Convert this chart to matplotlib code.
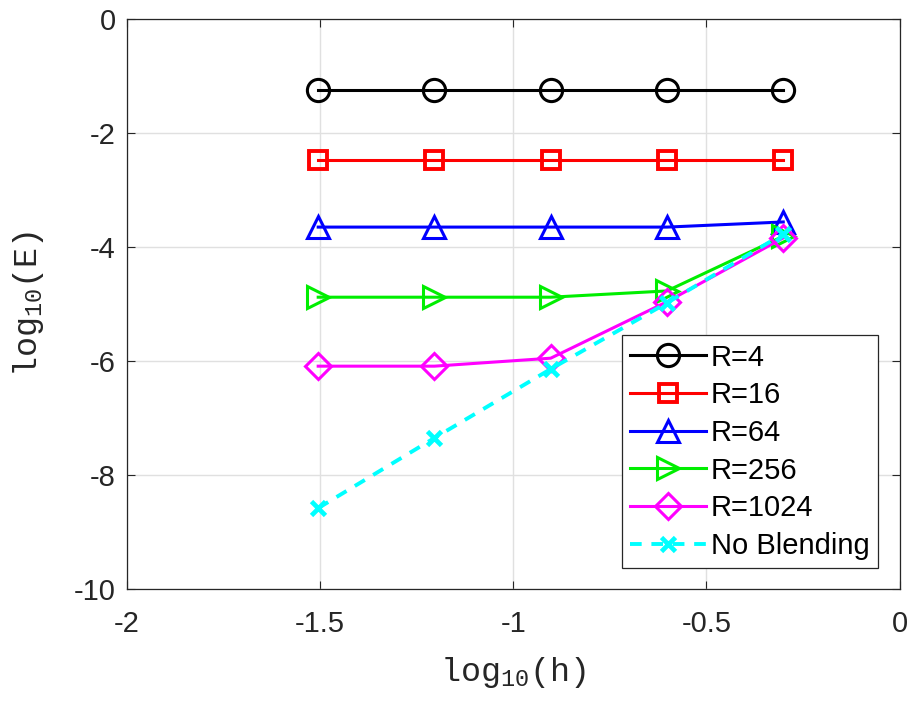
import matplotlib.pyplot as plt

# log10(h) for h = 1/32 ... 1/2
log_h = [-1.505, -1.204, -0.903, -0.602, -0.301]

err_r4 = [-1.25, -1.25, -1.25, -1.25, -1.25]
err_r16 = [-2.47, -2.47, -2.47, -2.47, -2.47]
err_r64 = [-3.65, -3.65, -3.65, -3.65, -3.56]
err_r256 = [-4.88, -4.88, -4.88, -4.77, -3.81]
err_r1024 = [-6.09, -6.09, -5.95, -4.96, -3.84]
err_noblend = [-8.58, -7.35, -6.14, -4.98, -3.77]

labels = ['R=4', 'R=16', 'R=64', 'R=256', 'R=1024', 'No Blending']

plt.rcParams['font.family'] = ['Liberation Sans', 'DejaVu Sans']
plt.rcParams['mathtext.fontset'] = 'custom'
plt.rcParams['mathtext.tt'] = 'Liberation Mono'
plt.rcParams['mathtext.rm'] = 'Liberation Mono'

fig = plt.figure(figsize=(9.11, 7.06), dpi=100)
ax = fig.add_axes([0.1394, 0.1657, 0.848, 0.8073])

ms = 16
lw = 2.2
ax.plot(log_h, err_r4, '-o', color='black', lw=lw, ms=ms, mew=2.2, mfc='none', label=labels[0])
ax.plot(log_h, err_r16, '-s', color='red', lw=lw, ms=ms - 3, mew=2.8, mfc='none', label=labels[1])
ax.plot(log_h, err_r64, '-^', color='blue', lw=lw, ms=ms, mew=2.2, mfc='none', label=labels[2])
ax.plot(log_h, err_r256, '->', color='#00ee00', lw=lw, ms=ms, mew=2.2, mfc='none', label=labels[3])
ax.plot(log_h, err_r1024, '-D', color='magenta', lw=lw, ms=ms - 3, mew=2.2, mfc='none', label=labels[4])
ax.plot(log_h, err_noblend, '--x', color='cyan', lw=lw + 0.6, ms=ms - 6, mew=3.4, label=labels[5],
        dashes=(3, 2.5))

ax.set_xlim(-2, 0)
ax.set_ylim(-10, 0)
ax.set_xticks([-2, -1.5, -1, -0.5, 0])
ax.set_xticklabels(['-2', '-1.5', '-1', '-0.5', '0'])
ax.set_yticks([0, -2, -4, -6, -8, -10])
ax.set_yticklabels(['0', '-2', '-4', '-6', '-8', '-10'])
ax.grid(True, color='#e0e0e0', lw=1)
ax.set_axisbelow(True)
ax.tick_params(direction='in', length=6, labelsize=21, colors='#262626',
               top=True, right=True)
ax.tick_params(axis='x', pad=15)
ax.tick_params(axis='y', pad=8)
for s in ax.spines.values():
    s.set_color('#262626')
    s.set_linewidth(0.9)

ax.set_xlabel(r'$\mathtt{log}_{\mathtt{10}}\mathtt{(h)}$', fontsize=24, color='#262626', labelpad=12)
ax.set_ylabel(r'$\mathtt{log}_{\mathtt{10}}\mathtt{(E)}$', fontsize=24, color='#262626', labelpad=20)

leg = ax.legend(loc='lower right', bbox_to_anchor=(0.9715, 0.037), fontsize=21,
                fancybox=False, framealpha=1, edgecolor='#262626', handlelength=2.6,
                handletextpad=0.15, borderpad=0.28, labelspacing=0.33, borderaxespad=0)
leg.get_frame().set_linewidth(0.9)

fig.savefig('out.png', dpi=100)
